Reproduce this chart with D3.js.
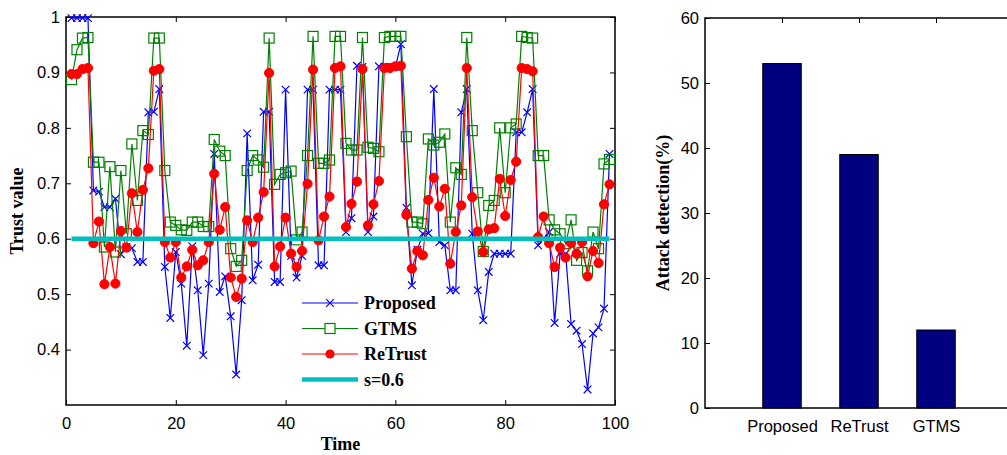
<!DOCTYPE html>
<html>
<head>
<meta charset="utf-8">
<script src="https://cdn.jsdelivr.net/npm/d3@7"></script>
<style>
  html, body { margin: 0; padding: 0; background: #fff; }
  svg { display: block; }
  .tick text { font-family: "Liberation Sans", Arial, sans-serif; font-size: 16.5px; fill: #000; }
  .title { font-family: "Liberation Serif", "Times New Roman", serif; font-weight: bold; font-size: 18px; fill: #000; }
</style>
</head>
<body>
<svg id="chart" width="1007" height="455"></svg>
<script>
// Trust value over time for each scheme (t = 1..99)
const time = d3.range(1, 100);

const proposed = [
  0.998,0.998,0.998,0.998,0.687,0.685,0.657,0.657,0.672,0.572,
  0.585,0.583,0.558,0.558,0.828,0.829,0.870,0.549,0.457,0.576,
  0.519,0.407,0.586,0.507,0.390,0.519,0.753,0.504,0.532,0.460,
  0.355,0.489,0.790,0.525,0.553,0.829,0.829,0.522,0.522,0.869,
  0.569,0.530,0.569,0.869,0.869,0.552,0.552,0.869,0.869,0.869,
  0.612,0.637,0.912,0.910,0.612,0.640,0.911,0.910,0.910,0.910,
  0.951,0.656,0.516,0.580,0.609,0.610,0.870,0.594,0.588,0.507,
  0.507,0.828,0.870,0.609,0.507,0.453,0.540,0.573,0.573,0.573,
  0.573,0.792,0.792,0.828,0.870,0.588,0.600,0.612,0.448,0.573,
  0.573,0.446,0.434,0.410,0.328,0.429,0.440,0.474,0.753
];

const gtms = [
  0.887,0.941,0.962,0.963,0.738,0.738,0.585,0.730,0.576,0.723,
  0.609,0.771,0.669,0.795,0.788,0.962,0.962,0.723,0.630,0.624,
  0.616,0.615,0.630,0.630,0.622,0.622,0.779,0.758,0.750,0.582,
  0.550,0.561,0.723,0.750,0.742,0.729,0.962,0.698,0.716,0.719,
  0.722,0.598,0.612,0.750,0.965,0.736,0.736,0.742,0.965,0.965,
  0.772,0.760,0.760,0.963,0.765,0.763,0.757,0.963,0.965,0.965,
  0.965,0.784,0.630,0.630,0.627,0.780,0.769,0.774,0.789,0.630,
  0.728,0.716,0.963,0.795,0.683,0.577,0.660,0.669,0.800,0.683,
  0.800,0.807,0.965,0.963,0.962,0.750,0.750,0.634,0.616,0.609,
  0.591,0.634,0.561,0.575,0.542,0.612,0.582,0.735,0.743
];

const retrust = [
  0.897,0.897,0.906,0.908,0.592,0.631,0.518,0.585,0.519,0.614,
  0.584,0.682,0.612,0.688,0.727,0.903,0.906,0.594,0.566,0.594,
  0.530,0.550,0.580,0.552,0.561,0.594,0.717,0.616,0.657,0.530,
  0.495,0.528,0.633,0.594,0.638,0.684,0.899,0.550,0.586,0.638,
  0.573,0.549,0.578,0.699,0.905,0.597,0.640,0.676,0.908,0.911,
  0.621,0.663,0.703,0.906,0.624,0.662,0.704,0.908,0.908,0.911,
  0.912,0.643,0.546,0.578,0.570,0.670,0.710,0.658,0.690,0.555,
  0.612,0.660,0.908,0.675,0.613,0.576,0.617,0.619,0.708,0.641,
  0.706,0.739,0.908,0.906,0.902,0.603,0.640,0.592,0.549,0.584,
  0.566,0.592,0.573,0.594,0.532,0.578,0.556,0.662,0.698
];

const threshold = 0.6;
const xTicks = [0, 20, 40, 60, 80, 100];
const yTicks = [0.4, 0.5, 0.6, 0.7, 0.8, 0.9, 1];

// Attack detection rate per scheme (%)
const schemes = ["Proposed", "ReTrust", "GTMS"];
const detection = [53, 39, 12];
const barTicks = [0, 10, 20, 30, 40, 50, 60];

const svg = d3.select("#chart");

/* ---------- left panel: trust value over time ---------- */
const L = { left: 66, right: 615, top: 17, bottom: 405 };
const x = d3.scaleLinear().domain([0, 100]).range([L.left, L.right]);
const y = d3.scaleLinear().domain([0.3, 1]).range([L.bottom, L.top]);

const left = svg.append("g");

// axes with inward ticks
left.append("g")
  .attr("transform", `translate(0,${L.bottom})`)
  .call(d3.axisBottom(x).tickValues(xTicks).tickSizeInner(-5).tickSizeOuter(0).tickPadding(12))
  .call(g => g.select(".domain").remove());
left.append("g")
  .attr("transform", `translate(0,${L.top})`)
  .call(d3.axisTop(x).tickValues(xTicks).tickSizeInner(-5).tickSizeOuter(0).tickFormat(""))
  .call(g => g.select(".domain").remove());
left.append("g")
  .attr("transform", `translate(${L.left},0)`)
  .call(d3.axisLeft(y).tickValues(yTicks).tickSizeInner(-5).tickSizeOuter(0).tickPadding(6)
        .tickFormat(d => d === 1 ? "1" : d3.format(".1f")(d)))
  .call(g => g.select(".domain").remove());
left.append("g")
  .attr("transform", `translate(${L.right},0)`)
  .call(d3.axisRight(y).tickValues(yTicks).tickSizeInner(-5).tickSizeOuter(0).tickFormat(""))
  .call(g => g.select(".domain").remove());
left.selectAll(".tick line").attr("stroke", "#000");

// plot frame
left.append("rect")
  .attr("x", L.left).attr("y", L.top)
  .attr("width", L.right - L.left).attr("height", L.bottom - L.top)
  .attr("fill", "none").attr("stroke", "#000").attr("stroke-width", 1.5);

const line = d3.line().x((d, i) => x(time[i])).y(d => y(d));

// Proposed: blue with x markers
const gP = left.append("g");
gP.append("path").datum(proposed).attr("d", line)
  .attr("fill", "none").attr("stroke", "#0000ff").attr("stroke-width", 1.2);
const crossPath = r => `M${-r},${-r}L${r},${r}M${-r},${r}L${r},${-r}`;
gP.selectAll("path.mk").data(proposed).join("path").attr("class", "mk")
  .attr("transform", (d, i) => `translate(${x(time[i])},${y(d)})`)
  .attr("d", crossPath(3.8))
  .attr("stroke", "#0000ff").attr("stroke-width", 1.2).attr("fill", "none");

// GTMS: green with square markers
const gG = left.append("g");
gG.append("path").datum(gtms).attr("d", line)
  .attr("fill", "none").attr("stroke", "#008000").attr("stroke-width", 1.2);
gG.selectAll("rect").data(gtms).join("rect")
  .attr("x", (d, i) => x(time[i]) - 5).attr("y", d => y(d) - 5)
  .attr("width", 10).attr("height", 10)
  .attr("fill", "none").attr("stroke", "#008000").attr("stroke-width", 1.2);

// ReTrust: red with filled circles
const gR = left.append("g");
gR.append("path").datum(retrust).attr("d", line)
  .attr("fill", "none").attr("stroke", "#ff0000").attr("stroke-width", 1.2);
gR.selectAll("circle").data(retrust).join("circle")
  .attr("cx", (d, i) => x(time[i])).attr("cy", d => y(d)).attr("r", 4.6)
  .attr("fill", "#ff0000").attr("stroke", "#ff0000").attr("stroke-width", 1);

// threshold s = 0.6
left.append("line")
  .attr("x1", x(time[0])).attr("x2", x(time[time.length - 1]))
  .attr("y1", y(threshold)).attr("y2", y(threshold))
  .attr("stroke", "#00bfbf").attr("stroke-width", 4.5);

// legend
const legend = left.append("g");
const legendItems = [
  { label: "Proposed", color: "#0000ff", mark: "x" },
  { label: "GTMS", color: "#008000", mark: "s" },
  { label: "ReTrust", color: "#ff0000", mark: "o" },
  { label: "s=0.6", color: "#00bfbf", mark: "thick" }
];
legendItems.forEach((it, k) => {
  const cy = 303 + k * 25.5;
  const g = legend.append("g");
  g.append("line").attr("x1", 302).attr("x2", 358).attr("y1", cy).attr("y2", cy)
    .attr("stroke", it.color).attr("stroke-width", it.mark === "thick" ? 4.5 : 1.2);
  if (it.mark === "x") {
    g.append("path").attr("transform", `translate(330,${cy})`).attr("d", crossPath(3.8))
      .attr("stroke", it.color).attr("stroke-width", 1.2);
  } else if (it.mark === "s") {
    g.append("rect").attr("x", 325).attr("y", cy - 5).attr("width", 10).attr("height", 10)
      .attr("fill", "#fff").attr("stroke", it.color).attr("stroke-width", 1.2);
  } else if (it.mark === "o") {
    g.append("circle").attr("cx", 330).attr("cy", cy).attr("r", 4.6).attr("fill", it.color);
  }
  g.append("text").attr("class", "title").attr("x", 364).attr("y", cy + 6).text(it.label);
});

// axis titles
left.append("text").attr("class", "title")
  .attr("x", (L.left + L.right) / 2).attr("y", 450).attr("text-anchor", "middle").text("Time");
left.append("text").attr("class", "title")
  .attr("transform", `translate(23,${(L.top + L.bottom) / 2}) rotate(-90)`)
  .attr("text-anchor", "middle").text("Trust value");

/* ---------- right panel: attack detection ---------- */
const R = { left: 705, right: 1013, top: 18, bottom: 408 };
const xb = d3.scalePoint().domain(schemes).range([R.left, R.right]).padding(1);
const yb = d3.scaleLinear().domain([0, 60]).range([R.bottom, R.top]);
const barW = xb.step() * 0.5;

const right = svg.append("g");

right.selectAll("rect.bar").data(detection).join("rect").attr("class", "bar")
  .attr("x", (d, i) => xb(schemes[i]) - barW / 2).attr("y", d => yb(d))
  .attr("width", barW).attr("height", d => yb(0) - yb(d))
  .attr("fill", "#000080").attr("stroke", "#000").attr("stroke-width", 1);

right.append("g")
  .attr("transform", `translate(0,${R.bottom})`)
  .call(d3.axisBottom(xb).tickSize(0).tickPadding(12))
  .call(g => g.select(".domain").remove());
right.append("g")
  .attr("transform", `translate(0,${R.top})`)
  .call(d3.axisTop(xb).tickSizeInner(-5).tickSizeOuter(0).tickFormat(""))
  .call(g => g.select(".domain").remove());
right.append("g")
  .attr("transform", `translate(${R.left},0)`)
  .call(d3.axisLeft(yb).tickValues(barTicks).tickSizeInner(-5).tickSizeOuter(0).tickPadding(6))
  .call(g => g.select(".domain").remove());
right.selectAll(".tick line").attr("stroke", "#000");

right.append("rect")
  .attr("x", R.left).attr("y", R.top)
  .attr("width", R.right - R.left).attr("height", R.bottom - R.top)
  .attr("fill", "none").attr("stroke", "#000").attr("stroke-width", 1.5);

right.append("text").attr("class", "title")
  .attr("transform", `translate(669,${(R.top + R.bottom) / 2}) rotate(-90)`)
  .attr("text-anchor", "middle").text("Attack detection(%)");
</script>
</body>
</html>
